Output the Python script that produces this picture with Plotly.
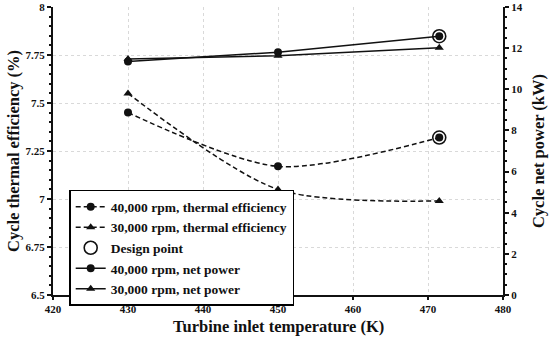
import plotly.graph_objects as go

# Data
temps = [430, 450, 471.5]
eff_40k = [7.45, 7.17, 7.32]
eff_30k = [7.55, 7.05, 6.99]
power_40k = [11.35, 11.80, 12.58]
power_30k = [11.47, 11.63, 12.02]
design_temp = [471.5]
design_eff = [7.32]
design_power = [12.58]

x_ticks = [420, 430, 440, 450, 460, 470, 480]
y_ticks = [6.5, 6.75, 7, 7.25, 7.5, 7.75, 8]
y_ticktext = ["6.5", "6.75", "7", "7.25", "7.5", "7.75", "8"]
y2_ticks = [0, 2, 4, 6, 8, 10, 12, 14]

FONT = "Liberation Serif"
INK = "#111111"
DASH = "5px,3px"

fig = go.Figure()

fig.add_trace(go.Scatter(
    x=temps, y=eff_40k, name="40,000 rpm, thermal efficiency",
    mode="lines+markers", line=dict(color=INK, width=1.5, dash=DASH, shape="spline", smoothing=0.8),
    marker=dict(symbol="circle", size=8, color=INK), yaxis="y"))
fig.add_trace(go.Scatter(
    x=temps, y=eff_30k, name="30,000 rpm, thermal efficiency",
    mode="lines+markers", line=dict(color=INK, width=1.5, dash=DASH, shape="spline", smoothing=0.8),
    marker=dict(symbol="triangle-up", size=8, color=INK), yaxis="y"))
fig.add_trace(go.Scatter(
    x=design_temp, y=design_eff, name="Design point", mode="markers",
    marker=dict(symbol="circle-open", size=13, color=INK, line=dict(width=1.6, color=INK)),
    yaxis="y"))
fig.add_trace(go.Scatter(
    x=temps, y=power_40k, name="40,000 rpm, net power",
    mode="lines+markers", line=dict(color=INK, width=1.5),
    marker=dict(symbol="circle", size=8, color=INK), yaxis="y2"))
fig.add_trace(go.Scatter(
    x=temps, y=power_30k, name="30,000 rpm, net power",
    mode="lines+markers", line=dict(color=INK, width=1.5),
    marker=dict(symbol="triangle-up", size=8, color=INK), yaxis="y2"))
fig.add_trace(go.Scatter(
    x=design_temp, y=design_power, name="Design point", mode="markers", showlegend=False,
    marker=dict(symbol="circle-open", size=13, color=INK, line=dict(width=1.6, color=INK)),
    yaxis="y2"))

tickfont = dict(family=FONT, size=11, color=INK, weight="bold")
titlefont = dict(family=FONT, size=16.5, color=INK, weight="bold")
grid = dict(showgrid=True, gridcolor="#d9d9d9", griddash="dot", gridwidth=1)

fig.update_layout(
    width=550, height=339,
    margin=dict(l=53, r=47, t=7, b=44, autoexpand=False),
    paper_bgcolor="white", plot_bgcolor="white",
    showlegend=True,
    legend=dict(x=0.036, y=0.365, xanchor="left", yanchor="top",
                bgcolor="white", bordercolor="black", borderwidth=1.5,
                font=dict(family=FONT, size=13.5, color=INK, weight="bold"),
                tracegroupgap=0, itemwidth=30),
    xaxis=dict(range=[420, 480], tickvals=x_ticks, ticks="outside", ticklen=3,
               tickwidth=1.5, tickcolor=INK, showline=True, linewidth=2, linecolor=INK,
               tickfont=tickfont, zeroline=False, automargin=False, ticklabelstandoff=0,
               **grid),
    yaxis=dict(range=[6.5, 8], tickvals=y_ticks, ticktext=y_ticktext, ticks="outside",
               ticklen=4, tickwidth=1.5, tickcolor=INK, showline=True, linewidth=2,
               linecolor=INK, tickfont=tickfont, zeroline=False, automargin=False,
               minor=dict(ticks="outside", ticklen=2, tickcolor=INK, dtick=0.05, showgrid=False),
               **grid),
    yaxis2=dict(range=[0, 14], tickvals=y2_ticks, overlaying="y", side="right",
                ticks="outside", ticklen=4, tickwidth=1.5, tickcolor=INK, showline=True,
                linewidth=2, linecolor=INK, tickfont=tickfont, zeroline=False, showgrid=False,
                automargin=False,
                minor=dict(ticks="outside", ticklen=2, tickcolor=INK, dtick=0.5)),
    annotations=[
        dict(text="Turbine inlet temperature (K)", xref="paper", yref="paper",
             x=0.5, y=-0.111, xanchor="center", yanchor="middle", showarrow=False,
             font=titlefont),
        dict(text="Cycle thermal efficiency (%)", xref="paper", yref="paper",
             x=-0.089, y=0.5, xanchor="center", yanchor="middle", showarrow=False,
             textangle=-90, font=titlefont),
        dict(text="Cycle net power (kW)", xref="paper", yref="paper",
             x=1.078, y=0.5, xanchor="center", yanchor="middle", showarrow=False,
             textangle=-90, font=titlefont),
    ],
)

fig.write_html("out.html", config={"displayModeBar": False},
               post_script="document.body.style.margin='0';document.body.style.overflow='hidden';")
